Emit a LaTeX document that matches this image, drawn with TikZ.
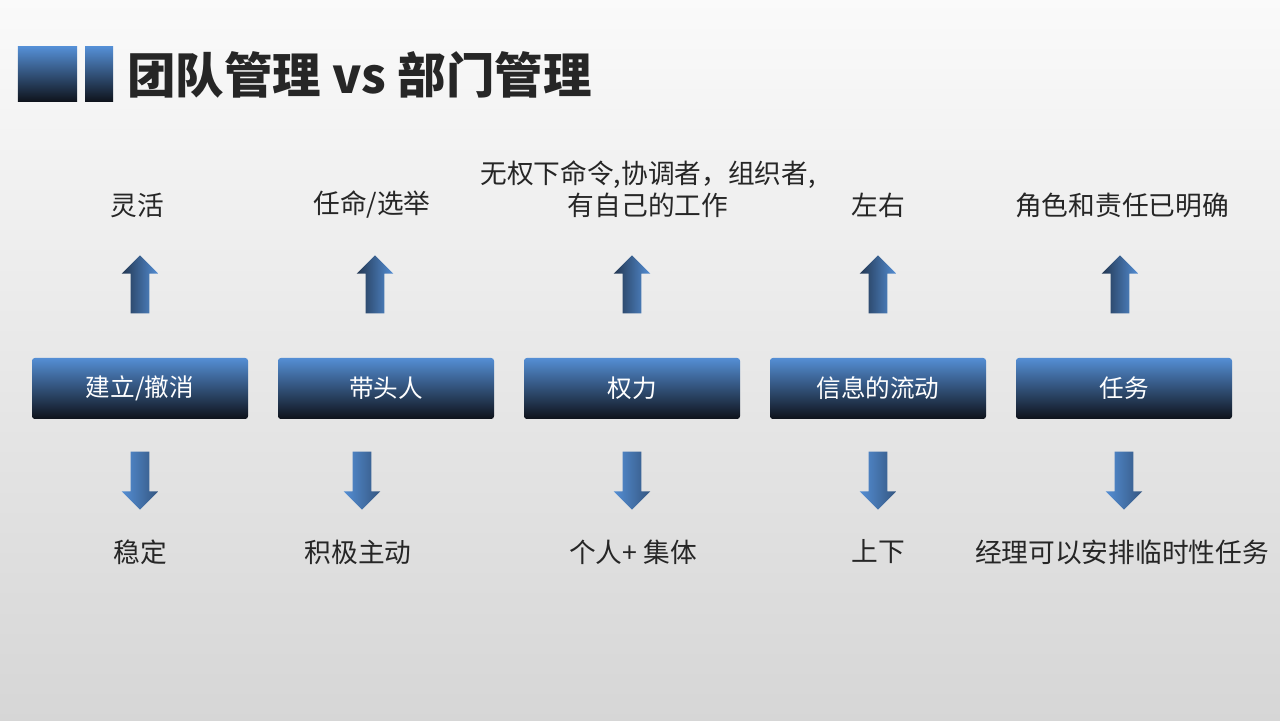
\documentclass[tikz,border=0pt]{standalone}
\usepackage{fontspec}
\setmainfont{Noto Sans CJK SC}
\usetikzlibrary{shapes.arrows}

\definecolor{boxblue}{RGB}{84,142,212}
\definecolor{boxdark}{RGB}{14,18,26}
\definecolor{txtgray}{RGB}{38,38,38}

\tikzset{
  topic/.style={rectangle, rounded corners=2pt, minimum width=5.4cm, minimum height=1.525cm,
    top color=boxblue, middle color=boxblue!78!boxdark, bottom color=boxdark,
    text=white, font=\fontsize{17.5}{20}\selectfont},
  uparrow/.style={single arrow, shape border rotate=90, inner sep=0.225cm,
    single arrow head extend=0.225cm, minimum height=1.45cm,
    left color=boxdark!70!boxblue, right color=boxblue},
  downarrow/.style={single arrow, shape border rotate=270, inner sep=0.225cm,
    single arrow head extend=0.225cm, minimum height=1.45cm,
    left color=boxblue, right color=boxblue!55!boxdark},
  note/.style={text=txtgray, font=\fontsize{19}{23}\selectfont, align=center}
}

\begin{document}
\begin{tikzpicture}[node distance=6.15cm]
    % Background
    \shade[top color=white!98!black, bottom color=white!84!black] (0,0) rectangle (32,18);

    % Title
    \shade[top color=boxblue, bottom color=boxdark] (0.45,15.45) rectangle (1.925,16.825);
    \shade[top color=boxblue, bottom color=boxdark] (2.125,15.45) rectangle (2.825,16.825);
    \node [anchor=west, inner sep=0, text=txtgray, font=\fontsize{34.5}{40}\selectfont\bfseries] (title) at (3.175,16.125) {团队管理 vs 部门管理};

    % Topics
    \node [topic] (build) at (3.5,8.2875) {建立/撤消};
    \node [topic, right of=build] (leader) {带头人};
    \node [topic, right of=leader] (power) {权力};
    \node [topic, right of=power] (info) {信息的流动};
    \node [topic, right of=info] (task) {任务};

    % Team side (up)
    \node [uparrow] (upbuild) at (3.5,10.775) {};
    \node [uparrow] (upleader) at (9.375,10.775) {};
    \node [uparrow] (uppower) at (15.8,10.775) {};
    \node [uparrow] (upinfo) at (21.95,10.775) {};
    \node [uparrow] (uptask) at (28.0,10.775) {};

    \node [note] (flexible) at (3.425,12.875) {灵活};
    \node [note] (appoint) at (9.3,12.875) {任命/选举};
    \node [note] (coord) at (16.2,13.275) {无权下命令,协调者，组织者,\\有自己的工作};
    \node [note] (sideways) at (21.95,12.875) {左右};
    \node [note] (roles) at (28.05,12.875) {角色和责任已明确};

    % Department side (down)
    \node [downarrow] (dnbuild) at (3.5,6.1) {};
    \node [downarrow] (dnleader) at (9.05,6.1) {};
    \node [downarrow] (dnpower) at (15.8,6.1) {};
    \node [downarrow] (dninfo) at (21.95,6.1) {};
    \node [downarrow] (dntask) at (28.1,6.1) {};

    \node [note] (stable) at (3.5,4.2) {稳定};
    \node [note] (active) at (8.95,4.2) {积极主动};
    \node [note] (collective) at (15.825,4.2) {个人+ 集体};
    \node [note] (updown) at (21.95,4.2) {上下};
    \node [note] (temp) at (28.05,4.2) {经理可以安排临时性任务};
\end{tikzpicture}
\end{document}
